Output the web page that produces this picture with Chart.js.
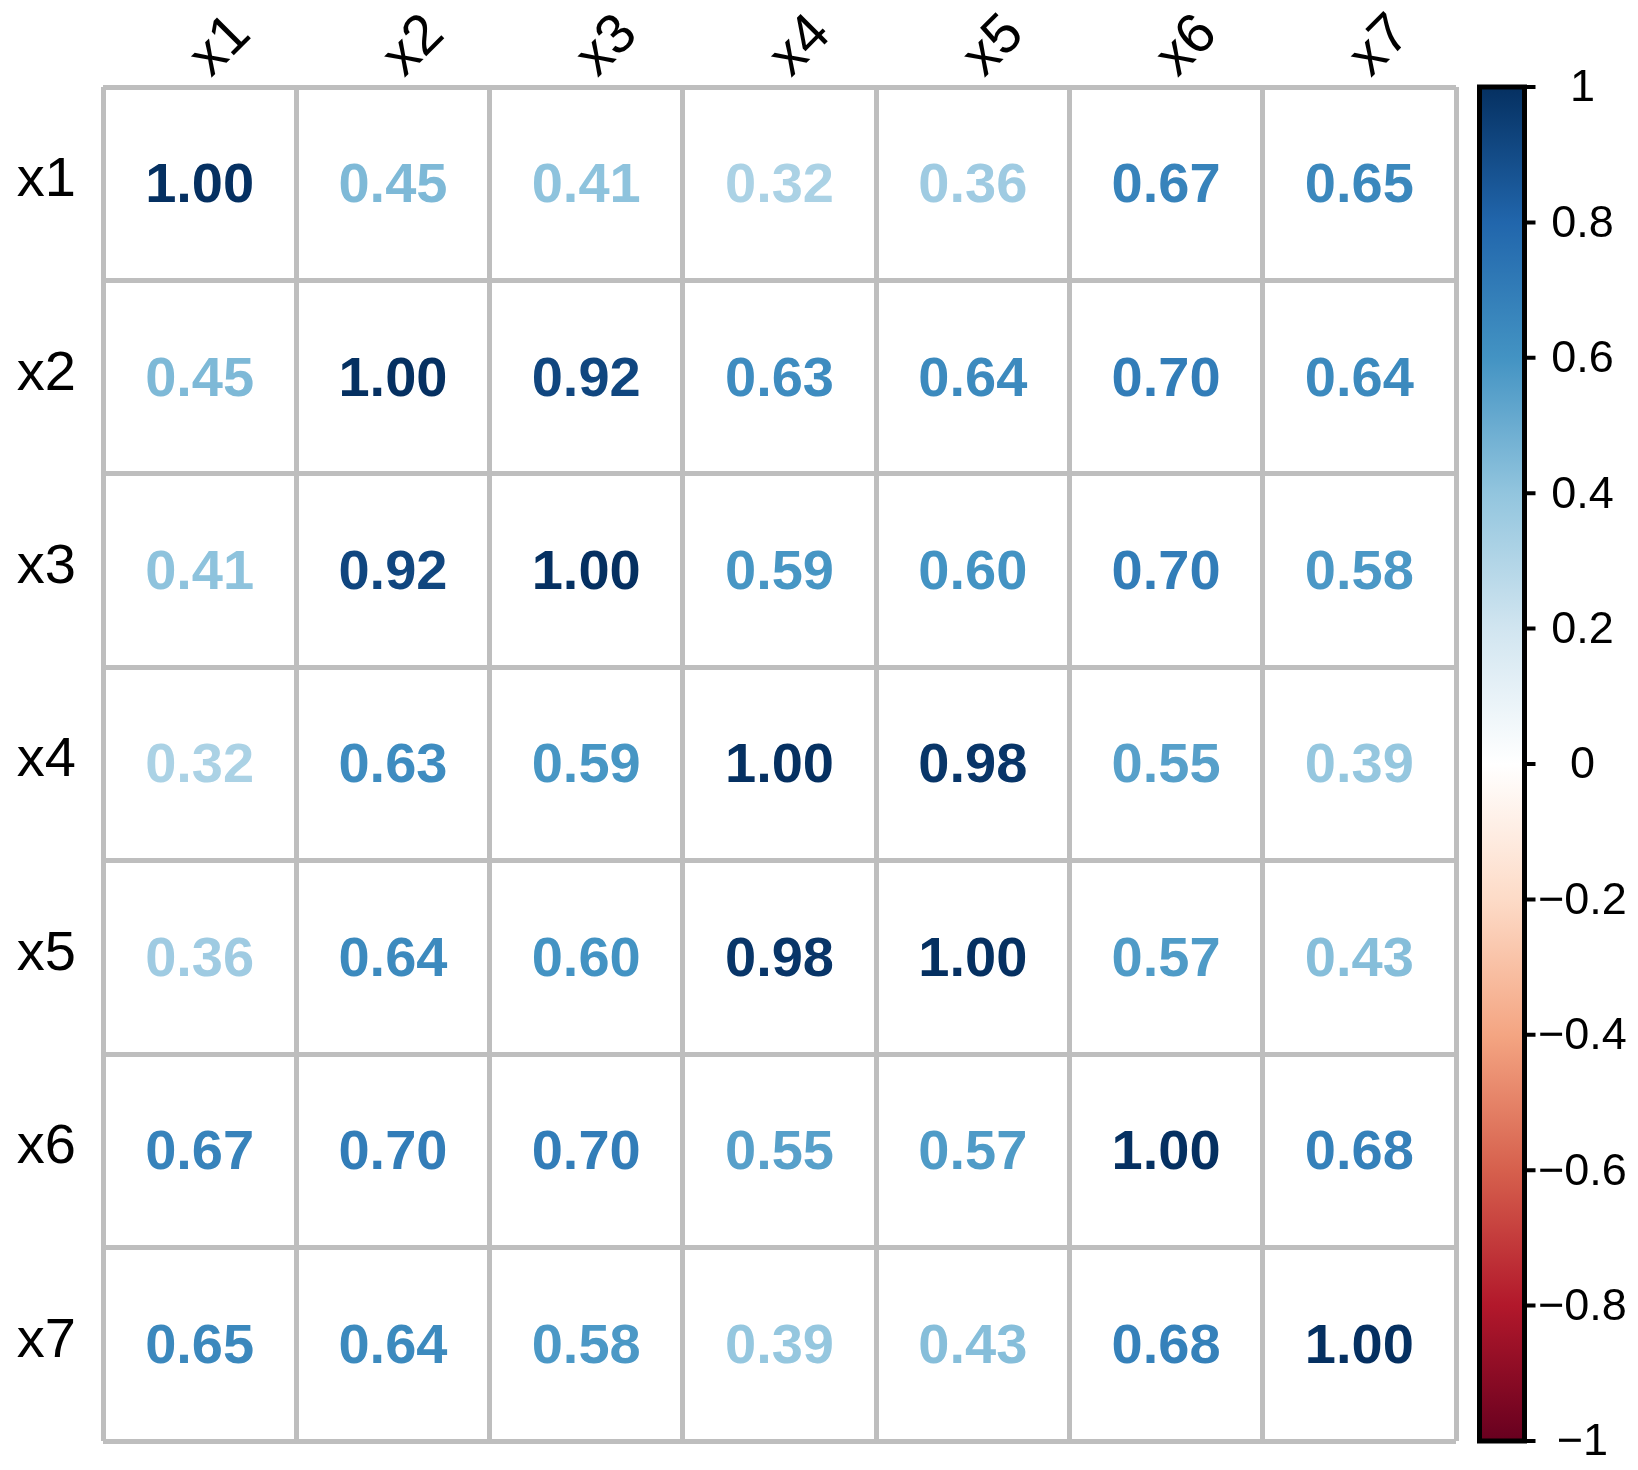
<!DOCTYPE html>
<html>
<head>
<meta charset="utf-8">
<script src="https://cdn.jsdelivr.net/npm/chart.js@4/dist/chart.umd.min.js"></script>
<style>
  html, body { margin: 0; padding: 0; background: #ffffff; }
  #wrap { width: 1638px; height: 1470px; }
</style>
</head>
<body>
<div id="wrap"><canvas id="c" width="1638" height="1470"></canvas></div>
<script>
// ---------- data ----------
const variables = ['x1', 'x2', 'x3', 'x4', 'x5', 'x6', 'x7'];
const corrX1 = [1.00, 0.45, 0.41, 0.32, 0.36, 0.67, 0.65];
const corrX2 = [0.45, 1.00, 0.92, 0.63, 0.64, 0.70, 0.64];
const corrX3 = [0.41, 0.92, 1.00, 0.59, 0.60, 0.70, 0.58];
const corrX4 = [0.32, 0.63, 0.59, 1.00, 0.98, 0.55, 0.39];
const corrX5 = [0.36, 0.64, 0.60, 0.98, 1.00, 0.57, 0.43];
const corrX6 = [0.67, 0.70, 0.70, 0.55, 0.57, 1.00, 0.68];
const corrX7 = [0.65, 0.64, 0.58, 0.39, 0.43, 0.68, 1.00];
const colorbarTicks = [-1, -0.8, -0.6, -0.4, -0.2, 0, 0.2, 0.4, 0.6, 0.8, 1];
const paletteRdBu = ['#67001F', '#B2182B', '#D6604D', '#F4A582', '#FDDBC7', '#FFFFFF',
                     '#D1E5F0', '#92C5DE', '#4393C3', '#2166AC', '#053061'];

// ---------- helpers ----------
const FONT = "'Liberation Sans', Arial, Helvetica, sans-serif";
const rows = [corrX1, corrX2, corrX3, corrX4, corrX5, corrX6, corrX7];

function hexToRgb(h) {
  return [parseInt(h.slice(1, 3), 16), parseInt(h.slice(3, 5), 16), parseInt(h.slice(5, 7), 16)];
}
function colorFor(v) {
  const t = (v + 1) / 2 * (paletteRdBu.length - 1);
  const i = Math.max(0, Math.min(paletteRdBu.length - 2, Math.floor(t)));
  const f = t - i;
  const a = hexToRgb(paletteRdBu[i]), b = hexToRgb(paletteRdBu[i + 1]);
  const c = a.map((x, k) => Math.round(x + (b[k] - x) * f));
  return 'rgb(' + c.join(',') + ')';
}
function fmtTick(v) {
  const r = Math.round(v * 10) / 10;
  if (r === 0) return '0';
  const s = Math.abs(r) === 1 ? '1' : Math.abs(r).toFixed(1);
  return (r < 0 ? '\u2212' : '') + s;
}

const points = [];
rows.forEach((row, i) => {
  row.forEach((v, j) => points.push({ x: variables[j], y: variables[i], v: v }));
});

// ---------- plugins ----------
const cellTextPlugin = {
  id: 'cellText',
  afterDatasetsDraw(chart) {
    const ctx = chart.ctx;
    const meta = chart.getDatasetMeta(0);
    const data = chart.data.datasets[0].data;
    ctx.save();
    ctx.font = 'bold 56px ' + FONT;
    ctx.textAlign = 'center';
    ctx.textBaseline = 'middle';
    meta.data.forEach((el, k) => {
      const v = data[k].v;
      ctx.fillStyle = colorFor(v);
      ctx.fillText(v.toFixed(2), el.x, el.y + 3);
    });
    ctx.restore();
  }
};

const colorbarPlugin = {
  id: 'colorbar',
  afterDraw(chart) {
    const s = chart.scales.cb;
    const ctx = chart.ctx;
    const top = s.getPixelForValue(1);
    const bottom = s.getPixelForValue(-1);
    const x0 = s.left + 23.5, x1 = s.left + 68.5;
    const g = ctx.createLinearGradient(0, bottom, 0, top);
    paletteRdBu.forEach((c, i) => g.addColorStop(i / (paletteRdBu.length - 1), c));
    ctx.save();
    ctx.fillStyle = g;
    ctx.fillRect(x0, top, x1 - x0, bottom - top);
    ctx.strokeStyle = '#000000';
    ctx.lineWidth = 5;
    ctx.strokeRect(x0, top, x1 - x0, bottom - top);
    ctx.lineWidth = 4;
    ctx.beginPath();
    s.ticks.forEach((t) => {
      const y = s.getPixelForValue(t.value);
      ctx.moveTo(x1 + 2, y);
      ctx.lineTo(x1 + 11, y);
    });
    ctx.stroke();
    ctx.restore();
  }
};

// ---------- chart ----------
new Chart(document.getElementById('c'), {
  type: 'scatter',
  data: {
    datasets: [{
      data: points,
      pointRadius: 0,
      pointHoverRadius: 0,
      backgroundColor: 'rgba(0,0,0,0)',
      borderColor: 'rgba(0,0,0,0)'
    }]
  },
  options: {
    responsive: false,
    animation: false,
    devicePixelRatio: 1,
    layout: { padding: { top: 0, left: 0, right: 0, bottom: 29 } },
    plugins: { legend: { display: false }, tooltip: { enabled: false } },
    scales: {
      x: {
        type: 'category',
        labels: variables,
        position: 'top',
        offset: true,
        grid: { offset: true, color: '#BEBEBE', lineWidth: 5, drawTicks: false },
        border: { display: false },
        ticks: {
          autoSkip: false, minRotation: 45, maxRotation: 45,
          color: '#000000', font: { family: FONT, size: 56 },
          padding: -4, labelOffset: 48
        },
        afterFit(s) { s.height = 87; }
      },
      y: {
        type: 'category',
        labels: variables,
        position: 'left',
        offset: true,
        grid: { offset: true, color: '#BEBEBE', lineWidth: 5, drawTicks: true,
                tickLength: 27, tickColor: 'rgba(0,0,0,0)' },
        border: { display: false },
        ticks: {
          autoSkip: false, color: '#000000', font: { family: FONT, size: 56, lineHeight: 1 },
          padding: 0, labelOffset: -3
        },
        afterFit(s) { s.width = 103; }
      },
      cb: {
        type: 'linear',
        position: 'right',
        min: -1, max: 1,
        grid: { display: true, drawOnChartArea: false, drawTicks: true,
                tickLength: 82, tickColor: 'rgba(0,0,0,0)', color: 'rgba(0,0,0,0)' },
        border: { display: false },
        afterBuildTicks(s) { s.ticks = colorbarTicks.map(v => ({ value: v })); },
        ticks: {
          crossAlign: 'center', padding: 0, color: '#000000',
          font: { family: FONT, size: 45, lineHeight: 1 },
          labelOffset: 2,
          callback: (v) => fmtTick(v)
        },
        afterFit(s) { s.width = 182; }
      }
    }
  },
  plugins: [cellTextPlugin, colorbarPlugin]
});
</script>
</body>
</html>
